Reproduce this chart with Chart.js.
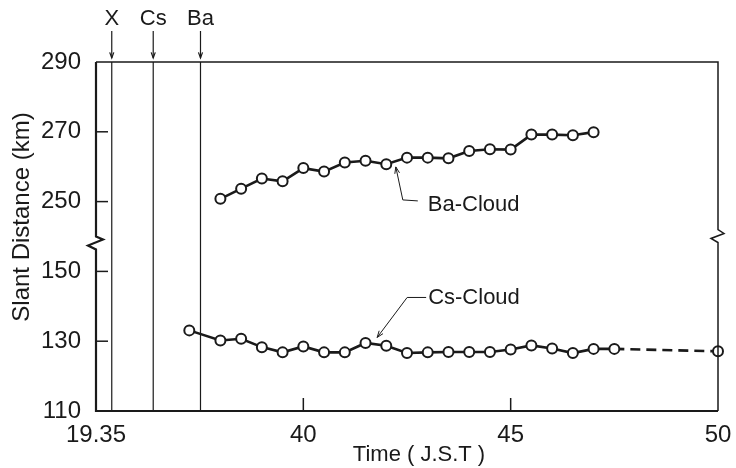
<!DOCTYPE html>
<html>
<head>
<meta charset="utf-8">
<script src="https://cdn.jsdelivr.net/npm/chart.js@4"></script>
<style>
  body { margin: 0; background: #fff; }
  #wrap { width: 736px; height: 468px; }
</style>
</head>
<body>
<div id="wrap"><canvas id="slantChart" width="736" height="468"></canvas></div>
<script>
// time in minutes after 19:00 J.S.T, slant distance in km
const baTime = [38, 38.5, 39, 39.5, 40, 40.5, 41, 41.5, 42, 42.5, 43, 43.5, 44, 44.5, 45, 45.5, 46, 46.5, 47];
const baDist = [250.8, 253.7, 256.6, 255.8, 259.6, 258.6, 261.2, 261.7, 260.7, 262.6, 262.6, 262.4, 264.5, 265.0, 264.9, 269.2, 269.2, 269.0, 269.9];

const csTime = [37.25, 38, 38.5, 39, 39.5, 40, 40.5, 41, 41.5, 42, 42.5, 43, 43.5, 44, 44.5, 45, 45.5, 46, 46.5, 47, 47.5, 50];
const csDist = [133.1, 130.2, 130.7, 128.3, 126.8, 128.5, 126.8, 126.8, 129.5, 128.7, 126.6, 126.8, 126.9, 126.9, 126.9, 127.6, 128.8, 127.9, 126.6, 127.8, 127.8, 127.1];

// release times marked at the top
const eventNames = ['X', 'Cs', 'Ba'];
const eventTimes = [35.38, 36.38, 37.52];

const xTicks = [35, 40, 45, 50];
const yTicksLow = [110, 130, 150];
const yTicksHigh = [250, 270, 290];

// broken y axis: the upper part is shifted down so 250 sits just above 150
const BREAK_SHIFT = 80;
const toAxis = v => v > 200 ? v - BREAK_SHIFT : v;
const fromAxis = v => v > 150 ? v + BREAK_SHIFT : v;

const FONT = '"Liberation Sans", Arial, sans-serif';
const INK = '#1a1a1a';

const pts = (xs, ys) => xs.map((x, i) => ({ x: x, y: toAxis(ys[i]) }));

function arrow(ctx, x1, y1, x2, y2, head) {
    ctx.beginPath();
    ctx.moveTo(x1, y1);
    ctx.lineTo(x2, y2);
    ctx.stroke();
    const a = Math.atan2(y2 - y1, x2 - x1);
    ctx.beginPath();
    ctx.moveTo(x2 - head * Math.cos(a - 0.35), y2 - head * Math.sin(a - 0.35));
    ctx.lineTo(x2, y2);
    ctx.lineTo(x2 - head * Math.cos(a + 0.35), y2 - head * Math.sin(a + 0.35));
    ctx.stroke();
}

// event lines go under the data
const eventLines = {
    id: 'eventLines',
    beforeDatasetsDraw(chart) {
        const { ctx, chartArea, scales } = chart;
        ctx.save();
        ctx.strokeStyle = INK;
        ctx.fillStyle = INK;
        ctx.lineWidth = 1.2;
        ctx.font = '22px ' + FONT;
        ctx.textAlign = 'center';
        ctx.textBaseline = 'middle';
        eventTimes.forEach((t, i) => {
            const x = scales.x.getPixelForValue(t);
            ctx.beginPath();
            ctx.moveTo(x, chartArea.top);
            ctx.lineTo(x, chartArea.bottom);
            ctx.stroke();
            arrow(ctx, x, chartArea.top - 31, x, chartArea.top - 4, 6);
            ctx.fillText(eventNames[i], x, chartArea.top - 43);
        });
        ctx.restore();
    }
};

// frame with break marks, inward ticks, labels and axis titles
const decorations = {
    id: 'decorations',
    afterDraw(chart) {
        const { ctx, chartArea: a, scales } = chart;
        const yBreak = scales.y.getPixelForValue(160);
        ctx.save();
        ctx.strokeStyle = INK;
        ctx.lineCap = 'butt';

        // top and right border
        ctx.lineWidth = 1.5;
        ctx.beginPath();
        ctx.moveTo(a.left, a.top);
        ctx.lineTo(a.right, a.top);
        ctx.lineTo(a.right, yBreak - 7);
        ctx.lineTo(a.right + 6, yBreak - 3);
        ctx.lineTo(a.right - 7, yBreak + 2);
        ctx.lineTo(a.right, yBreak + 6);
        ctx.lineTo(a.right, a.bottom);
        ctx.stroke();

        // left and bottom axes
        ctx.lineWidth = 2.2;
        ctx.beginPath();
        ctx.moveTo(a.left, a.top);
        ctx.lineTo(a.left, yBreak);
        ctx.lineTo(a.left + 7, yBreak + 3);
        ctx.lineTo(a.left - 8, yBreak + 9);
        ctx.lineTo(a.left, yBreak + 13);
        ctx.lineTo(a.left, a.bottom);
        ctx.lineTo(a.right, a.bottom);
        ctx.stroke();

        // inward tick marks
        ctx.lineWidth = 1.5;
        yTicksLow.concat(yTicksHigh).forEach(v => {
            const y = scales.y.getPixelForValue(toAxis(v));
            if (y <= a.top + 1 || y >= a.bottom - 1) return;
            ctx.beginPath();
            ctx.moveTo(a.left, y);
            ctx.lineTo(a.left + 12, y);
            ctx.stroke();
        });
        xTicks.forEach(v => {
            const x = scales.x.getPixelForValue(v);
            if (x <= a.left + 1 || x >= a.right - 1) return;
            ctx.beginPath();
            ctx.moveTo(x, a.bottom);
            ctx.lineTo(x, a.bottom - 13);
            ctx.stroke();
        });

        // cloud labels with leaders
        ctx.lineWidth = 1;
        ctx.fillStyle = INK;
        ctx.font = '22px ' + FONT;
        ctx.textAlign = 'left';
        ctx.textBaseline = 'middle';

        const bx = scales.x.getPixelForValue(42.23);
        const by = scales.y.getPixelForValue(toAxis(260.8));
        arrow(ctx, bx + 7, by + 36, bx, by + 3, 7);
        ctx.beginPath();
        ctx.moveTo(bx + 7, by + 36);
        ctx.lineTo(bx + 22, by + 37);
        ctx.stroke();
        ctx.fillText('Ba-Cloud', bx + 32, by + 41);

        const cx = scales.x.getPixelForValue(41.78);
        const cy = scales.y.getPixelForValue(130.5);
        arrow(ctx, cx + 30, cy - 42, cx, cy - 2, 7);
        ctx.beginPath();
        ctx.moveTo(cx + 30, cy - 42);
        ctx.lineTo(cx + 49, cy - 42);
        ctx.stroke();
        ctx.fillText('Cs-Cloud', cx + 51, cy - 42);

        // axis titles
        ctx.font = '22px ' + FONT;
        ctx.textAlign = 'center';
        ctx.fillText('Time ( J.S.T )', 419, 455);
        ctx.save();
        ctx.translate(22, 217);
        ctx.rotate(-Math.PI / 2);
        ctx.font = '24px ' + FONT;
        ctx.fillText('Slant Distance (km)', 0, 0);
        ctx.restore();

        ctx.restore();
    }
};

const lineStyle = {
    showLine: true,
    borderColor: INK,
    borderWidth: 2.6,
    pointRadius: 5,
    pointBorderWidth: 2,
    pointBorderColor: INK,
    pointBackgroundColor: '#fff',
    tension: 0,
    clip: false
};

const ctx = document.getElementById('slantChart').getContext('2d');
const slantChart = new Chart(ctx, {
    type: 'line',
    data: {
        datasets: [
            Object.assign({ label: 'Ba-Cloud', data: pts(baTime, baDist) }, lineStyle),
            Object.assign({
                label: 'Cs-Cloud',
                data: pts(csTime, csDist),
                segment: {
                    borderDash: c => c.p1DataIndex === csTime.length - 1 ? [10, 6] : undefined
                }
            }, lineStyle)
        ]
    },
    options: {
        responsive: false,
        animation: false,
        layout: { padding: { top: 62, right: 18, left: 0, bottom: 0 } },
        plugins: { legend: { display: false }, tooltip: { enabled: false } },
        scales: {
            x: {
                type: 'linear',
                min: 35,
                max: 50,
                grid: { display: false },
                border: { display: false },
                afterBuildTicks: s => { s.ticks = xTicks.map(v => ({ value: v })); },
                afterFit: s => { s.height = 57; },
                ticks: {
                    autoSkip: false,
                    maxRotation: 0,
                    padding: 2,
                    color: INK,
                    font: { family: FONT, size: 24 },
                    callback: v => v === 35 ? '19.35' : String(v)
                }
            },
            y: {
                type: 'linear',
                min: 110,
                max: 210,
                grid: { display: false },
                border: { display: false },
                afterBuildTicks: s => { s.ticks = yTicksLow.concat(yTicksHigh).map(v => ({ value: toAxis(v) })); },
                afterFit: s => { s.width = 96; },
                ticks: {
                    padding: 7,
                    color: INK,
                    font: { family: FONT, size: 24 },
                    callback: v => String(fromAxis(v))
                }
            }
        }
    },
    plugins: [eventLines, decorations]
});
</script>
</body>
</html>
